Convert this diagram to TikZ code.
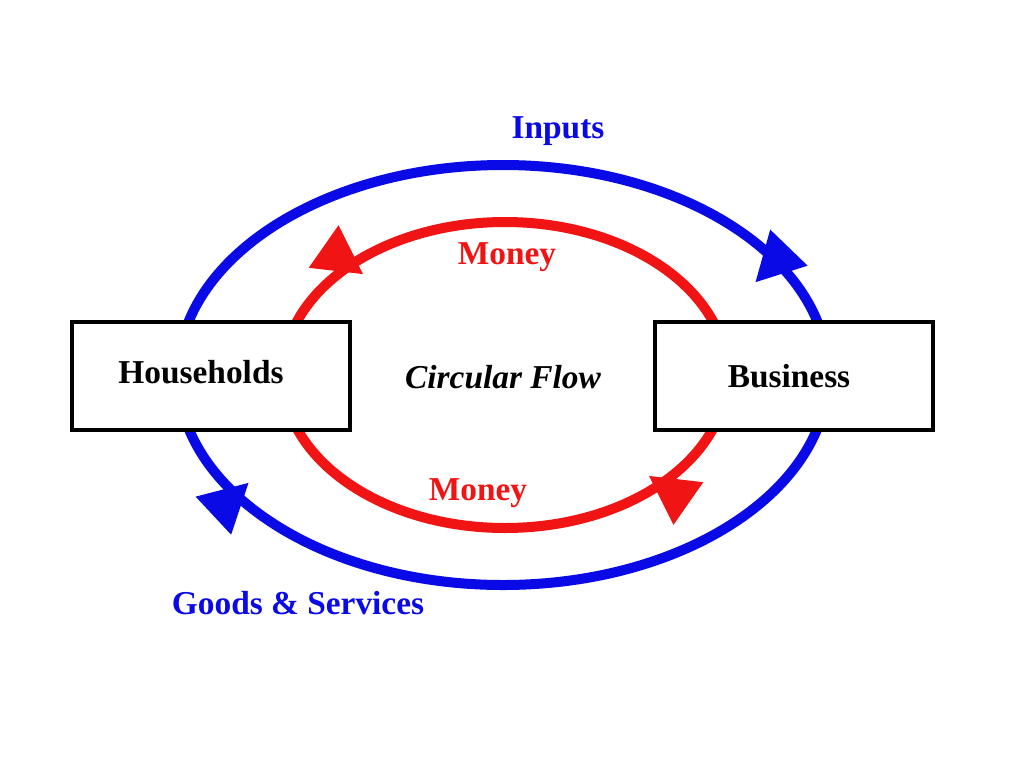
\documentclass[tikz,border=0pt]{standalone}
\usepackage{fontspec}
\setmainfont{Liberation Serif}
\definecolor{fblue}{RGB}{10,10,230}
\definecolor{fred}{RGB}{240,20,20}
\begin{document}
\begin{tikzpicture}[x=0.02cm,y=-0.02cm,
  box/.style={draw=black,line width=4.5*0.02cm,fill=white,minimum width=278*0.02cm,minimum height=108*0.02cm,inner sep=0pt},
  lbl/.style={font=\fontsize{19}{22}\selectfont\bfseries},
  ring/.style={line width=10*0.02cm}]
\useasboundingbox (0,0) rectangle (1024,768);
\fill[white] (0,0) rectangle (1024,768);
\draw[ring,fblue] (503,375) ellipse [x radius=325,y radius=210];
\draw[ring,fred] (505,375) ellipse [x radius=222,y radius=153];
\foreach \p/\a/\c in {{(775,262)}/-46/fblue,{(228,502)}/137/fblue,{(340,258)}/215/fred,{(672,492)}/35/fred}{
  \fill[\c,shift={\p},rotate=180-\a] (28,0) -- (-20,26) -- (-20,-26) -- cycle;}
\node[box] (hh) at (211,376) {};
\node[lbl] at (hh.center) [xshift=-0.2cm,yshift=0.08cm] (hht) {Households};
\node[box] (bz) at (794,376) {};
\node[lbl] at (bz.center) [xshift=-0.1cm] (bzt) {Business};
\node[lbl,font=\fontsize{19}{22}\selectfont\bfseries\itshape] (cf) at (503,377) {Circular Flow};
\node[lbl,fblue] (in) at (558,131) {Inputs};
\node[lbl,fred] (m1) at (507,257) {Money};
\node[lbl,fred] (m2) at (478,493) {Money};
\node[lbl,fblue] (gs) at (298,603) {Goods \& Services};
\end{tikzpicture}
\end{document}
